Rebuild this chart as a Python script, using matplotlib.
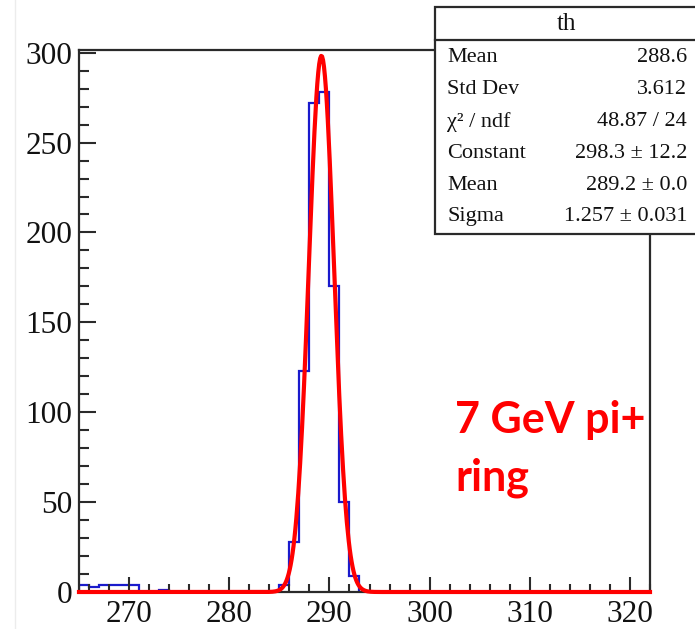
import numpy as np
import matplotlib
matplotlib.use('Agg')
import matplotlib.pyplot as plt
from matplotlib.patches import Rectangle
from matplotlib.lines import Line2D
from matplotlib.ticker import MultipleLocator

# histogram "th": 1-unit bins from 265 to 322
bin_lo = 265
bin_hi = 322
counts = [4, 3, 4, 4, 4, 4, 0, 0, 1, 0,          # 265-274
          0, 0, 0, 0, 0, 0, 0, 0, 0, 0,          # 275-284
          4, 28, 123, 272, 278, 170, 50, 9, 0, 0,  # 285-294
          0, 0, 0, 0, 0, 0, 0, 0, 0, 0,          # 295-304
          0, 0, 0, 0, 0, 0, 0, 0, 0, 0,          # 305-314
          0, 0, 0, 0, 0, 0, 0]                   # 315-321

# gaus fit result (from the stats box)
fit_const = 298.3
fit_mean = 289.2
fit_sigma = 1.257

stat_names = ['Mean', 'Std Dev', 'χ² / ndf', 'Constant', 'Mean', 'Sigma']
stat_values = ['288.6', '3.612', '48.87 / 24', '298.3 ± 12.2',
               '289.2 ± 0.0', '1.257 ± 0.031']

W, H = 695, 629
fig = plt.figure(figsize=(W / 100, H / 100), dpi=100)
ax = fig.add_axes([79 / W, 1 - 592 / H, (650 - 79) / W, (592 - 50) / H])

edges = np.arange(bin_lo, bin_hi + 1)
ax.stairs(counts, edges, color='#1a1acc', lw=1.6, baseline=0)

# fit curve
xf = np.linspace(bin_lo, bin_hi, 600)
yf = fit_const * np.exp(-0.5 * ((xf - fit_mean) / fit_sigma) ** 2)
ax.plot(xf, yf, color='#ff0000', lw=3.0, clip_on=False, zorder=3)

ax.set_xlim(bin_lo, bin_hi)
ax.set_ylim(0, 301.5)

# ROOT-ish axes
for s in ['top', 'right', 'left', 'bottom']:
    ax.spines[s].set_linewidth(1.6)
    ax.spines[s].set_color('#2a2a2a')
ax.xaxis.set_major_locator(MultipleLocator(10))
ax.xaxis.set_minor_locator(MultipleLocator(2))
ax.yaxis.set_major_locator(MultipleLocator(50))
ax.yaxis.set_minor_locator(MultipleLocator(10))
ax.tick_params(axis='both', which='both', direction='in', top=False, right=False,
               color='#2a2a2a', width=1.5)
ax.tick_params(axis='x', which='major', length=11, pad=6)
ax.tick_params(axis='x', which='minor', length=5.5)
ax.tick_params(axis='y', which='major', length=12.5, pad=5)
ax.tick_params(axis='y', which='minor', length=7)
for lab in ax.get_xticklabels() + ax.get_yticklabels():
    lab.set_fontfamily('Liberation Serif')
    lab.set_fontsize(22.5)
    lab.set_color('#111111')

# stats box
box_l, box_r, box_t, box_b, sep = 435, 698, 7, 234, 40
fig.add_artist(Rectangle((box_l / W, 1 - box_b / H), (box_r - box_l) / W,
                         (box_b - box_t) / H, transform=fig.transFigure,
                         facecolor='white', edgecolor='#2a2a2a', lw=1.6,
                         zorder=5, clip_on=False))
fig.add_artist(Line2D([box_l / W, box_r / W], [1 - sep / H, 1 - sep / H],
                      transform=fig.transFigure, color='#2a2a2a', lw=1.6, zorder=6))
fig.text((box_l + box_r) / 2 / W, 1 - 24 / H, 'th', ha='center', va='center',
         family='Liberation Serif', fontsize=18, color='#111111', zorder=7)
row_y = [57, 89, 122, 154, 185, 217]
for name, val, yy in zip(stat_names, stat_values, row_y):
    fig.text(447 / W, 1 - yy / H, name, ha='left', va='center',
             family='Liberation Serif', fontsize=16, color='#111111', zorder=7)
    fig.text(687 / W, 1 - yy / H, val, ha='right', va='center',
             family='Liberation Serif', fontsize=16, color='#111111', zorder=7)

# annotation
fig.text(455 / W, 1 - 433 / H, '7 GeV pi+', ha='left', va='baseline',
         family='Lato', weight='bold', fontsize=31, color='#ff0000')
fig.text(455 / W, 1 - 490 / H, 'ring', ha='left', va='baseline',
         family='Lato', weight='bold', fontsize=31, color='#ff0000')

# faint screenshot border on the left
fig.add_artist(Line2D([15 / W, 15 / W], [0, 1], transform=fig.transFigure,
                      color='#ececec', lw=1))

fig.savefig('out.png', dpi=100)
